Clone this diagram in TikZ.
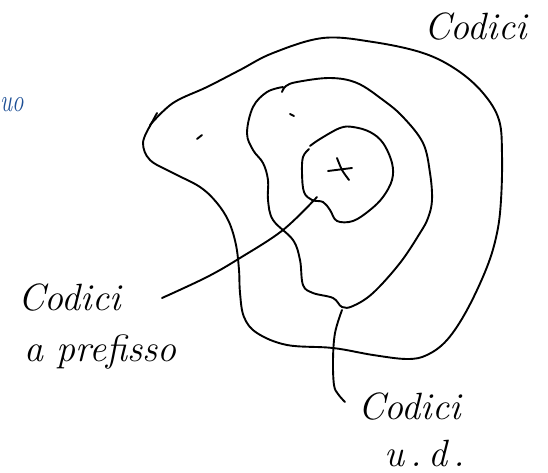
\documentclass[tikz,border=0pt]{standalone}
\begin{document}
\begin{tikzpicture}[x=1pt,y=-1pt,
  ink/.style={line width=1.9pt,line cap=round,line join=round},
  hand/.style={font=\fontsize{38}{44}\selectfont\itshape,inner sep=0pt},
  blueink/.style={text={rgb,255:red,30;green,80;blue,150}}]
\useasboundingbox (0,0) rectangle (548,473);
% outer region
\draw[ink] (157,113) -- (150,126);
\draw[ink] plot[smooth,tension=0.6] coordinates {(150,126) (143,143) (150,160) (173,173) (200,187) (217,203) (229,222) (236,245) (239,270) (240,293) (244,317) (257,333) (287,345) (333,348) (373,355) (407,359) (427,355) (447,340) (467,310) (487,267) (497,233) (501,200) (502,155) (499,120) (483,93) (457,70) (423,53) (373,42) (323,38) (273,53) (240,70) (207,87) (173,103) (150,125)};
% middle region
\draw[ink] plot[smooth,tension=0.6] coordinates {(282,92) (286,86) (297,82) (330,78) (357,83) (383,100) (403,117) (423,143) (430,173) (432,200) (428,218) (420,233) (400,263) (373,293) (353,306) (342,307) (333,298) (313,293) (303,285) (300,260) (293,240) (273,220) (268,200) (268,180) (263,163) (253,150) (247,133) (253,107) (267,92) (283,87)};
% inner region
\draw[ink] plot[smooth,tension=0.6] coordinates {(310,146) (320,139) (340,128) (353,127) (370,132) (383,143) (392,163) (392,180) (383,197) (370,210) (353,221) (337,221) (330,210) (323,202) (312,200) (304,192) (302,173) (303,157) (309,149)};
% cross
\draw[ink] (328,171) -- (352,168);
\draw[ink] plot[smooth] coordinates {(337,158) (342,170) (349,180)};
% ticks
\draw[ink] (197,139) -- (202,135);
\draw[ink] (290,114) -- (294,116);
% labels
\node[hand,anchor=base west] (top) at (424,40) {Codici};
\node[hand,anchor=base west] (lp1) at (18,310) {Codici};
\node[hand,anchor=base west] (lp2) at (24,361) {a prefisso};
\node[hand,anchor=base west] (ud1) at (358,419) {Codici};
\node[hand,anchor=base west] (ud2) at (384,466) {u\,.\,d\,.};
\node[hand,blueink,anchor=base west,font=\fontsize{32}{36}\selectfont\itshape,xscale=0.72] (frag) at (0,112) {uo};
% pointers
\draw[ink] plot[smooth,tension=0.6] coordinates {(317,197) (283,230) (240,258) (207,277) (162,298)};
\draw[ink] plot[smooth,tension=0.6] coordinates {(342,310) (335,333) (333,360) (334,385) (338,394) (345,402)};
\end{tikzpicture}
\end{document}
